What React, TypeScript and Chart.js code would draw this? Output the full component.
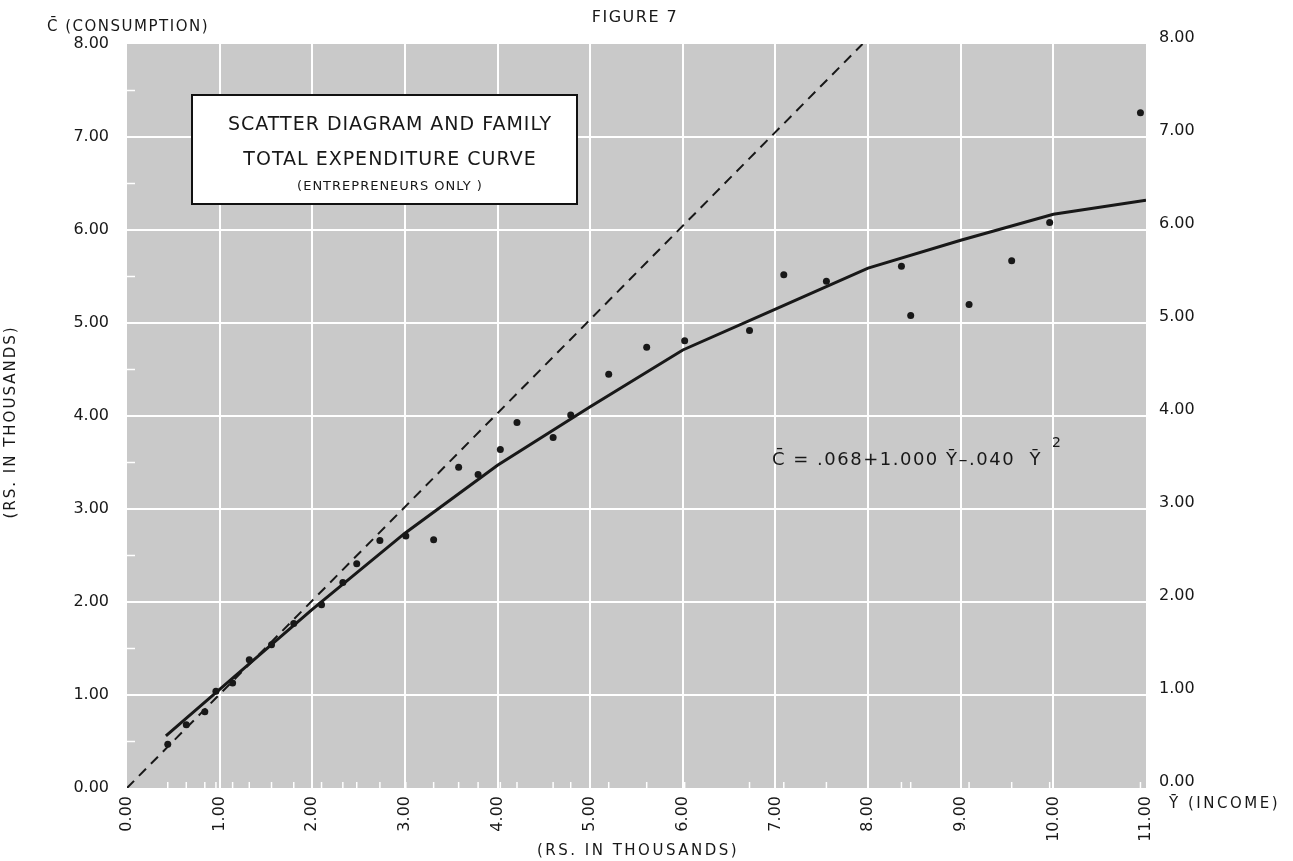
import React, { useEffect, useRef } from "react";
import { Chart, registerables } from "chart.js";

Chart.register(...registerables);

// ---- data ----
const incomeY = [0.44, 0.64, 0.84, 0.96, 1.14, 1.32, 1.56, 1.8, 2.1, 2.33, 2.48, 2.73, 3.01, 3.31, 3.58, 3.79, 4.03, 4.21, 4.6, 4.79, 5.2, 5.61, 6.02, 6.72, 7.09, 7.55, 8.36, 8.46, 9.09, 9.55, 9.96, 10.94];
const consumptionC = [0.47, 0.68, 0.82, 1.04, 1.13, 1.38, 1.54, 1.77, 1.97, 2.21, 2.41, 2.66, 2.71, 2.67, 3.45, 3.37, 3.64, 3.93, 3.77, 4.01, 4.45, 4.74, 4.81, 4.92, 5.52, 5.45, 5.61, 5.08, 5.2, 5.67, 6.08, 7.26];

const curveIncome = [0.42, 1, 2, 3, 4, 5, 6, 7, 8, 9, 10, 11];
const curveConsumption = [0.56, 1.06, 1.92, 2.74, 3.47, 4.1, 4.71, 5.15, 5.59, 5.89, 6.17, 6.32];

const diagonalIncome = [0, 7.94];
const diagonalConsumption = [0, 8];

const xTickLabels = ["0.00", "1.00", "2.00", "3.00", "4.00", "5.00", "6.00", "7.00", "8.00", "9.00", "10.00", "11.00"];
const yTickLabels = ["0.00", "1.00", "2.00", "3.00", "4.00", "5.00", "6.00", "7.00", "8.00"];
const leftMinorTicks = [0.5, 1.5, 2.5, 3.5, 4.5, 5.5, 6.5, 7.5];

const FONT = "'DejaVu Sans', sans-serif";
const INK = "#181818";

const backgroundPlugin = {
  id: "plotBackground",
  beforeDraw(chart: any) {
    const { ctx, chartArea } = chart;
    ctx.save();
    ctx.fillStyle = "#c9c9c9";
    ctx.fillRect(chartArea.left, chartArea.top, chartArea.right - chartArea.left, chartArea.bottom - chartArea.top);
    ctx.restore();
  },
  beforeDatasetsDraw(chart: any) {
    const { ctx, chartArea, scales } = chart;
    ctx.save();
    ctx.strokeStyle = "#ffffff";
    ctx.lineWidth = 1.5;
    incomeY.forEach((v) => {
      const x = scales.x.getPixelForValue(v);
      ctx.beginPath();
      ctx.moveTo(x, chartArea.bottom);
      ctx.lineTo(x, chartArea.bottom - 6);
      ctx.stroke();
    });
    leftMinorTicks.forEach((v) => {
      const y = scales.y.getPixelForValue(v);
      ctx.beginPath();
      ctx.moveTo(chartArea.left, y);
      ctx.lineTo(chartArea.left + 8, y);
      ctx.stroke();
    });
    ctx.restore();
  },
};

function spaced(ctx: any, text: string, x: number, y: number, size: number, spacing: number, align: string) {
  ctx.font = `${size}px ${FONT}`;
  (ctx as any).letterSpacing = `${spacing}px`;
  ctx.textAlign = align;
  ctx.fillText(text, x, y);
  const w = ctx.measureText(text).width;
  (ctx as any).letterSpacing = "0px";
  return w;
}

const textPlugin = {
  id: "annotations",
  afterDraw(chart: any) {
    const { ctx } = chart;
    ctx.save();
    ctx.fillStyle = INK;
    ctx.textBaseline = "middle";

    // header texts
    spaced(ctx, "FIGURE 7", 635, 18, 16, 1.5, "center");
    spaced(ctx, "C\u0304 (CONSUMPTION)", 47, 27, 15, 1.5, "left");

    // x axis title
    spaced(ctx, "(RS. IN THOUSANDS)", 638, 851, 15, 2.5, "center");
    spaced(ctx, "\u0232 (INCOME)", 1169, 804, 15, 2.5, "left");

    // left vertical title
    ctx.save();
    ctx.translate(11, 422);
    ctx.rotate(-Math.PI / 2);
    spaced(ctx, "(RS. IN THOUSANDS)", 0, 0, 15, 2, "center");
    ctx.restore();

    // title box
    ctx.fillStyle = "#ffffff";
    ctx.fillRect(192, 95, 385, 109);
    ctx.strokeStyle = "#111111";
    ctx.lineWidth = 2;
    ctx.strokeRect(192, 95, 385, 109);
    ctx.fillStyle = INK;
    spaced(ctx, "SCATTER DIAGRAM AND FAMILY", 390, 125, 19, 1, "center");
    spaced(ctx, "TOTAL EXPENDITURE CURVE", 390, 160, 19, 1, "center");
    spaced(ctx, "(ENTREPRENEURS ONLY )", 390, 187, 13, 1, "center");

    // equation
    const eq = "C\u0304 = .068+1.000 \u0232\u2013.040  \u0232";
    const w = spaced(ctx, eq, 772, 460, 18, 1.5, "left");
    spaced(ctx, "2", 772 + w + 10, 443, 14, 0, "left");

    ctx.restore();
  },
};

export default function App() {
  const canvasRef = useRef<HTMLCanvasElement | null>(null);

  useEffect(() => {
    if (!canvasRef.current) return;
    const gridColor = (c: any, max: number) =>
      c.tick && (c.tick.value === 0 || c.tick.value === max) ? "rgba(0,0,0,0)" : "#ffffff";

    const chart = new Chart(canvasRef.current, {
      type: "scatter",
      data: {
        datasets: [
          {
            label: "Families",
            data: incomeY.map((x, i) => ({ x, y: consumptionC[i] })),
            pointRadius: 3.5,
            pointBackgroundColor: INK,
            pointBorderWidth: 0,
            showLine: false,
          },
          {
            label: "C = Y",
            data: diagonalIncome.map((x, i) => ({ x, y: diagonalConsumption[i] })),
            showLine: true,
            borderColor: INK,
            borderWidth: 2,
            borderDash: [10, 7],
            pointRadius: 0,
          },
          {
            label: "Expenditure curve",
            data: curveIncome.map((x, i) => ({ x, y: curveConsumption[i] })),
            showLine: true,
            borderColor: INK,
            borderWidth: 3,
            pointRadius: 0,
            tension: 0,
          },
        ],
      },
      options: {
        animation: false,
        responsive: false,
        devicePixelRatio: 1,
        layout: { padding: { top: 44, left: 0, right: 0, bottom: 0 } },
        plugins: { legend: { display: false }, tooltip: { enabled: false } },
        scales: {
          x: {
            type: "linear",
            min: 0,
            max: 11,
            afterFit: (s: any) => {
              s.height = 73;
            },
            afterBuildTicks: (s: any) => {
              s.ticks = xTickLabels.map((_, i) => ({ value: i }));
            },
            ticks: {
              autoSkip: false,
              minRotation: 90,
              maxRotation: 90,
              padding: 8,
              color: INK,
              font: { family: FONT, size: 16 },
              callback: (v: any) => xTickLabels[Math.round(v)],
            },
            grid: {
              color: (c: any) => gridColor(c, 11),
              lineWidth: 2,
              drawTicks: false,
            },
            border: { display: false },
          },
          y: {
            type: "linear",
            position: "left",
            min: 0,
            max: 8,
            afterFit: (s: any) => {
              s.width = 127;
            },
            afterBuildTicks: (s: any) => {
              s.ticks = yTickLabels.map((_, i) => ({ value: i }));
            },
            ticks: {
              padding: 18,
              color: INK,
              font: { family: FONT, size: 16 },
              callback: (v: any) => yTickLabels[Math.round(v)],
            },
            grid: {
              color: (c: any) => gridColor(c, 8),
              lineWidth: 2,
              drawTicks: false,
            },
            border: { display: false },
          },
          y2: {
            type: "linear",
            position: "right",
            min: 0,
            max: 8,
            afterFit: (s: any) => {
              s.width = 147;
            },
            afterBuildTicks: (s: any) => {
              s.ticks = yTickLabels.map((_, i) => ({ value: i }));
            },
            ticks: {
              padding: 13,
              labelOffset: -6,
              color: INK,
              font: { family: FONT, size: 16 },
              callback: (v: any) => yTickLabels[Math.round(v)],
            },
            grid: { display: false, drawTicks: false },
            border: { display: false },
          },
        },
      },
      plugins: [backgroundPlugin, textPlugin],
    });
    return () => chart.destroy();
  }, []);

  return (
    <div style={{ position: "absolute", left: 0, top: 0, width: 1293, height: 861, background: "#ffffff" }}>
      <canvas ref={canvasRef} width={1293} height={861} />
    </div>
  );
}
